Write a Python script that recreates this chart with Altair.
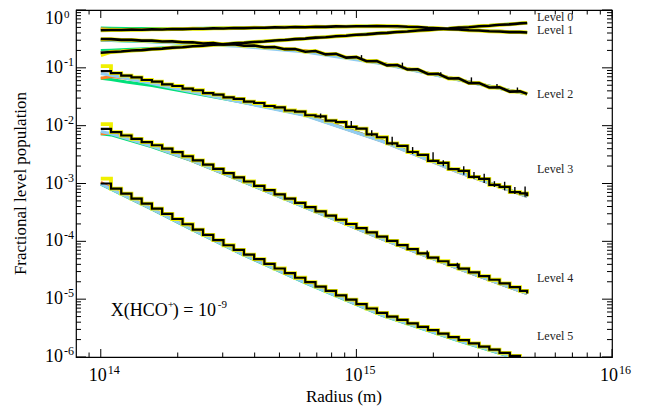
import altair as alt
import pandas as pd

FONT = "Liberation Serif"
W, H = 536, 347

# ---- radius grid (log10 m) for the Monte-Carlo (black) solutions ----
BX = [14.00, 14.04, 14.08, 14.12, 14.16, 14.20, 14.24, 14.28, 14.32, 14.36,
      14.40, 14.44, 14.48, 14.52, 14.56, 14.60, 14.64, 14.68, 14.72, 14.76,
      14.80, 14.84, 14.88, 14.92, 14.96, 15.00, 15.04, 15.08, 15.12, 15.16,
      15.20, 15.24, 15.28, 15.32, 15.36, 15.40, 15.44, 15.48, 15.52, 15.56,
      15.60, 15.64, 15.668]

# log10 fractional population, black curves
L0_BLACK = [-0.740, -0.726, -0.717, -0.701, -0.693, -0.676, -0.668, -0.651, -0.643, -0.626,
            -0.618, -0.602, -0.594, -0.577, -0.569, -0.553, -0.544, -0.528, -0.520, -0.503,
            -0.495, -0.478, -0.470, -0.454, -0.445, -0.429, -0.421, -0.404, -0.396, -0.380,
            -0.371, -0.355, -0.347, -0.330, -0.322, -0.305, -0.297, -0.281, -0.272, -0.256,
            -0.248, -0.231, -0.224]
L1_BLACK = [-0.351, -0.346, -0.347, -0.340, -0.342, -0.335, -0.336, -0.329, -0.330, -0.323,
            -0.325, -0.318, -0.319, -0.312, -0.313, -0.306, -0.308, -0.301, -0.302, -0.295,
            -0.297, -0.290, -0.291, -0.284, -0.286, -0.280, -0.282, -0.277, -0.281, -0.280,
            -0.290, -0.295, -0.309, -0.315, -0.330, -0.336, -0.350, -0.355, -0.368, -0.372,
            -0.382, -0.383, -0.389]
L2_BLACK = [-0.502, -0.504, -0.517, -0.516, -0.530, -0.529, -0.544, -0.543, -0.558, -0.559,
            -0.578, -0.570, -0.597, -0.590, -0.618, -0.613, -0.645, -0.641, -0.677, -0.676,
            -0.722, -0.708, -0.768, -0.758, -0.823, -0.815, -0.886, -0.882, -0.957, -0.951,
            -1.028, -1.026, -1.106, -1.104, -1.184, -1.183, -1.265, -1.262, -1.340, -1.336,
            -1.412, -1.407, -1.450]
L3_BLACK = [-1.057, -1.090, -1.136, -1.166, -1.210, -1.240, -1.286, -1.314, -1.360, -1.388,
            -1.436, -1.462, -1.510, -1.536, -1.586, -1.608, -1.660, -1.684, -1.738, -1.756,
            -1.820, -1.840, -1.914, -1.938, -2.022, -2.050, -2.150, -2.200, -2.305, -2.350,
            -2.455, -2.505, -2.608, -2.642, -2.750, -2.782, -2.885, -2.920, -3.025, -3.060,
            -3.150, -3.170, -3.222]
L4_BLACK = [-2.057, -2.113, -2.170, -2.227, -2.284, -2.339, -2.397, -2.456, -2.529, -2.601,
            -2.674, -2.747, -2.820, -2.893, -2.965, -3.040, -3.113, -3.187, -3.261, -3.334,
            -3.409, -3.482, -3.555, -3.627, -3.700, -3.773, -3.845, -3.918, -3.991, -4.064,
            -4.136, -4.208, -4.280, -4.344, -4.407, -4.471, -4.536, -4.600, -4.664, -4.728,
            -4.793, -4.858, -4.903]
L5_BLACK = [-3.000, -3.087, -3.174, -3.261, -3.348, -3.435, -3.524, -3.614, -3.705, -3.796,
            -3.887, -3.978, -4.068, -4.148, -4.229, -4.309, -4.389, -4.470, -4.550, -4.630,
            -4.707, -4.783, -4.858, -4.934, -5.009, -5.085, -5.161, -5.236, -5.301, -5.359,
            -5.419, -5.478, -5.536, -5.595, -5.655, -5.709, -5.763, -5.819, -5.873, -5.927,
            -5.982, -6.036, -6.072]
BLACK_NOISY = [L0_BLACK, L1_BLACK, L2_BLACK]     # drawn as a noisy band
BLACK_STEPS = [L3_BLACK, L4_BLACK, L5_BLACK]     # drawn as a staircase

# first point of the yellow solution (rest follows the black one)
YELLOW_START = [-0.780, -0.351, -0.502, -0.972, -1.972, -2.915]

# noise spikes (log10 radius, low, high)
SPIKE_X = [14.86, 14.98, 15.06, 15.14, 15.22, 15.30, 15.34, 15.42, 15.46, 15.50, 15.54, 15.58, 15.62, 15.66,
           15.02, 15.18, 15.33, 15.45, 15.55, 15.63,
           15.277, 15.395]
SPIKE_LO = [-1.87, -2.04, -2.18, -2.34, -2.49, -2.63, -2.70, -2.85, -2.92, -2.99, -3.06, -3.12, -3.18, -3.23,
            -0.85, -0.99, -1.136, -1.255, -1.35, -1.42,
            -4.275, -4.463]
SPIKE_HI = [-1.79, -1.92, -2.08, -2.19, -2.37, -2.46, -2.60, -2.70, -2.80, -2.83, -2.96, -2.97, -3.06, -3.05,
            -0.78, -0.91, -1.076, -1.165, -1.28, -1.34,
            -4.16, -4.37]

# smooth solutions of the other codes on a coarse grid
CX = [14.00, 14.04, 14.10, 14.20, 14.35, 14.55, 14.80, 15.10, 15.40, 15.668]
GREEN = [
    [-0.700, -0.695, -0.685, -0.665, -0.627, -0.568, -0.492, -0.398, -0.305, -0.222],
    [-0.311, -0.316, -0.320, -0.322, -0.318, -0.309, -0.294, -0.278, -0.337, -0.388],
    [-0.522, -0.527, -0.535, -0.550, -0.575, -0.615, -0.707, -0.921, -1.205, -1.452],
    [-1.180, -1.200, -1.245, -1.305, -1.425, -1.590, -1.815, -2.260, -2.800, -3.222],
    [-2.140, -2.160, -2.235, -2.365, -2.595, -2.955, -3.412, -3.957, -4.473, -4.905],
    [-3.010, -3.097, -3.228, -3.445, -3.783, -4.219, -4.717, -5.279, -5.719, -6.082],
]
BLUE = [
    [-0.745, -0.732, -0.712, -0.680, -0.633, -0.571, -0.494, -0.401, -0.308, -0.225],
    [-0.355, -0.352, -0.347, -0.339, -0.328, -0.313, -0.296, -0.280, -0.339, -0.390],
    [-0.515, -0.522, -0.532, -0.550, -0.582, -0.630, -0.725, -0.930, -1.210, -1.455],
    [-1.100, -1.130, -1.180, -1.270, -1.410, -1.595, -1.825, -2.270, -2.805, -3.225],
    [-2.100, -2.140, -2.220, -2.355, -2.592, -2.952, -3.412, -3.957, -4.473, -4.905],
    [-3.005, -3.092, -3.223, -3.440, -3.778, -4.214, -4.712, -5.274, -5.714, -6.077],
]
ORANGE = [
    [-0.735, -0.728, -0.709, -0.678, -0.632, -0.570, -0.493, -0.400, -0.307, -0.224],
    [-0.322, -0.335, -0.340, -0.336, -0.326, -0.312, -0.295, -0.279, -0.338, -0.389],
    [-0.520, -0.515, -0.520, -0.535, -0.562, -0.607, -0.705, -0.920, -1.205, -1.453],
    [-1.180, -1.150, -1.180, -1.260, -1.400, -1.585, -1.815, -2.265, -2.805, -3.225],
    [-2.140, -2.130, -2.215, -2.350, -2.590, -2.950, -3.410, -3.956, -4.472, -4.904],
    [-2.980, -3.080, -3.218, -3.435, -3.773, -4.209, -4.707, -5.269, -5.709, -6.072],
]

LEVEL_LABELS = ["Level 0", "Level 1", "Level 2", "Level 3", "Level 4", "Level 5"]
LEVEL_LABEL_Y = [0.745, 0.452, 0.0353, 1.76e-3, 2.35e-5, 2.29e-6]
LEVEL_LABEL_X = 5.09e15

Y_TICKS = [1.0, 1e-1, 1e-2, 1e-3, 1e-4, 1e-5, 1e-6]
Y_TICK_EXP = ["0", "-1", "-2", "-3", "-4", "-5", "-6"]
X_TICKS = [1e14, 1e15, 1e16]
X_TICK_EXP = ["14", "15", "16"]
MINOR_MULT = [2, 3, 4, 5, 6, 7, 8, 9]

ANNOT_X, ANNOT_Y = 1.094e14, 6.2e-6

C_ORANGE, C_GREEN, C_BLUE, C_YELLOW = "#ff7f24", "#00e07a", "#91cdf2", "#f0f000"

xs = alt.Scale(type="log", domain=[8e13, 1e16], nice=False)
ys = alt.Scale(type="log", domain=[1e-6, 1.0], nice=False)
XE = alt.X("r:Q", scale=xs, axis=None)
YE = alt.Y("v:Q", scale=ys, axis=None)


def curve_df(xgrid, series, first_level=0):
    rows = []
    for k, vals in enumerate(series):
        assert len(vals) == len(xgrid)
        for lx, lv in zip(xgrid, vals):
            rows.append({"r": 10 ** lx, "v": 10 ** lv, "level": first_level + k})
    return pd.DataFrame(rows)


def line_layer(df, color, width, interp="linear"):
    return alt.Chart(df).mark_line(color=color, strokeWidth=width, interpolate=interp, clip=True).encode(
        x=XE, y=YE, detail="level:N")


yel_noisy = [[s] + b[1:] for s, b in zip(YELLOW_START[:3], BLACK_NOISY)]
yel_steps = [[s] + b[1:] for s, b in zip(YELLOW_START[3:], BLACK_STEPS)]

layers = [
    line_layer(curve_df(CX, GREEN), C_GREEN, 3),
    line_layer(curve_df(CX, ORANGE), C_ORANGE, 3),
    line_layer(curve_df(CX, BLUE), C_BLUE, 3),
    line_layer(curve_df(BX, yel_noisy), C_YELLOW, 3.8),
    line_layer(curve_df(BX, yel_steps, 3), C_YELLOW, 3.8, "step-after"),
    line_layer(curve_df(BX, BLACK_NOISY), "black", 2.6),
    line_layer(curve_df(BX, BLACK_STEPS, 3), "black", 2.2, "step-after"),
]

spike_df = pd.DataFrame({"r": [10 ** v for v in SPIKE_X],
                         "lo": [10 ** v for v in SPIKE_LO],
                         "hi": [10 ** v for v in SPIKE_HI]})
layers.append(alt.Chart(spike_df).mark_rule(color="black", strokeWidth=1.4, clip=True).encode(
    x=XE, y=alt.Y("lo:Q", scale=ys, axis=None), y2="hi:Q"))

# ---- inward ticks on all four sides ----
y_minor = [m * t for t in Y_TICKS[1:] for m in MINOR_MULT]
x_minor = [9e13] + [m * t for t in X_TICKS[:2] for m in MINOR_MULT]
for vals, ln in [(Y_TICKS, 10), (y_minor, 5)]:
    df = pd.DataFrame({"v": vals})
    for x0, x1 in [(0, ln), (W, W - ln)]:
        layers.append(alt.Chart(df).mark_rule(color="black", strokeWidth=1).encode(
            y=YE, x=alt.value(x0), x2=alt.value(x1)))
for vals, ln in [(X_TICKS, 8), (x_minor, 4.5)]:
    df = pd.DataFrame({"r": vals})
    for y0, y1 in [(H, H - ln), (0, ln)]:
        layers.append(alt.Chart(df).mark_rule(color="black", strokeWidth=1).encode(
            x=XE, y=alt.value(y0), y2=alt.value(y1)))

# ---- tick labels: "10" with raised exponent ----
ylab = pd.DataFrame({"v": Y_TICKS, "base": ["10"] * len(Y_TICKS), "exp": Y_TICK_EXP})
ylab_top, ylab_rest = ylab.iloc[:1], ylab.iloc[1:]
for df, dy_base, dy_exp, fs_exp in [(ylab_top, 9, 4.5, 11), (ylab_rest, 0, -6, 12)]:
    layers.append(alt.Chart(df).mark_text(font=FONT, fontSize=18, align="right", baseline="middle",
                                          dy=dy_base, color="black").encode(
        y=YE, x=alt.value(-13), text="base:N"))
    layers.append(alt.Chart(df).mark_text(font=FONT, fontSize=fs_exp, align="left", baseline="middle",
                                          dy=dy_exp, color="black").encode(
        y=YE, x=alt.value(-12), text="exp:N"))
xlab = pd.DataFrame({"r": X_TICKS, "base": ["10"] * len(X_TICKS), "exp": X_TICK_EXP})
layers.append(alt.Chart(xlab).mark_text(font=FONT, fontSize=18, align="right", baseline="middle", dx=6,
                                        color="black").encode(
    x=XE, y=alt.value(H + 19), text="base:N"))
layers.append(alt.Chart(xlab).mark_text(font=FONT, fontSize=12, align="left", baseline="middle", dx=7,
                                        color="black").encode(
    x=XE, y=alt.value(H + 13), text="exp:N"))

# ---- axis titles ----
layers.append(alt.Chart(pd.DataFrame({"t": ["Radius (m)"]})).mark_text(
    font=FONT, fontSize=17, baseline="middle", color="black").encode(
    x=alt.value(W / 2), y=alt.value(H + 40), text="t:N"))
layers.append(alt.Chart(pd.DataFrame({"t": ["Fractional level population"]})).mark_text(
    font=FONT, fontSize=17, baseline="middle", angle=270, color="black").encode(
    x=alt.value(-55), y=alt.value(H / 2), text="t:N"))

# ---- level labels ----
lev = pd.DataFrame({"r": [LEVEL_LABEL_X] * 6, "v": LEVEL_LABEL_Y, "t": LEVEL_LABELS})
layers.append(alt.Chart(lev).mark_text(font=FONT, fontSize=12, align="left", baseline="middle",
                                       color="#222").encode(x=XE, y=YE, text="t:N"))

# ---- annotation X(HCO+) = 10^-9 ----
ann = pd.DataFrame({"r": [ANNOT_X], "v": [ANNOT_Y]})
for txt, size, dx, dy in [("X(HCO", 18, 0, 0), ("+", 11, 57, -6), (") = 10", 18, 62, 0), ("-9", 11, 107, -6)]:
    layers.append(alt.Chart(ann).mark_text(font=FONT, fontSize=size, align="left", baseline="middle",
                                           dx=dx, dy=dy, text=txt, color="black").encode(x=XE, y=YE))

chart = alt.layer(*layers).properties(
    width=W, height=H,
    padding={"left": 68, "top": 2, "right": 28, "bottom": 51},
    autosize=alt.AutoSizeParams(type="none"),
).configure_view(stroke="black", strokeWidth=1.2)

chart.save("out.html", embed_options={"renderer": "svg", "actions": False})
